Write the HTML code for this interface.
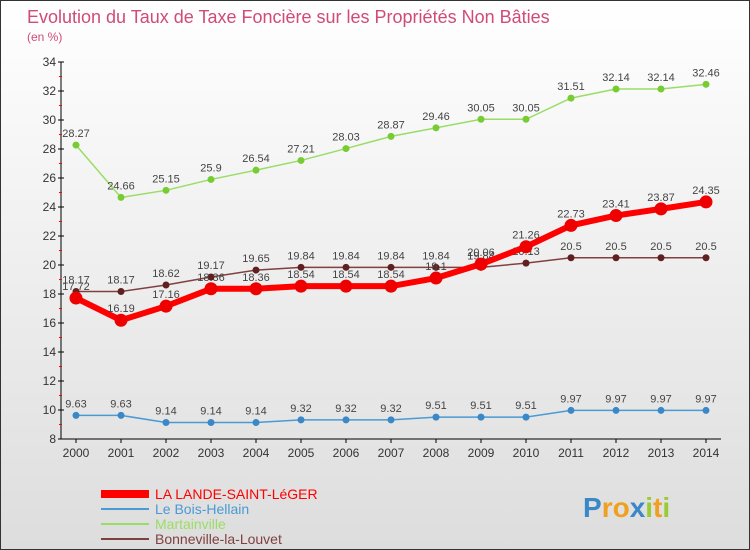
<!DOCTYPE html>
<html><head><meta charset="utf-8"><style>
body{margin:0}
#c{width:748px;height:548px;border:1px solid #333;background:linear-gradient(#fff,#ddd);position:relative;font-family:"Liberation Sans",sans-serif;overflow:hidden}
</style></head><body>
<div id="c">
<svg id="s" width="748" height="548"></svg>
</div>
<script>
const years=[2000,2001,2002,2003,2004,2005,2006,2007,2008,2009,2010,2011,2012,2013,2014];
const lande=[17.72,16.19,17.16,18.36,18.36,18.54,18.54,18.54,19.1,20.06,21.26,22.73,23.41,23.87,24.35];
const bois=[9.63,9.63,9.14,9.14,9.14,9.32,9.32,9.32,9.51,9.51,9.51,9.97,9.97,9.97,9.97];
const mart=[28.27,24.66,25.15,25.9,26.54,27.21,28.03,28.87,29.46,30.05,30.05,31.51,32.14,32.14,32.46];
const bonn=[18.17,18.17,18.62,19.17,19.65,19.84,19.84,19.84,19.84,19.84,20.13,20.5,20.5,20.5,20.5];
const yTicks=[8,10,12,14,16,18,20,22,24,26,28,30,32,34];
const NS="http://www.w3.org/2000/svg",s=document.getElementById('s');
const X=i=>75+i*45, Y=v=>438-(v-8)*(377/26);
function el(t,a,txt){const e=document.createElementNS(NS,t);for(const k in a)e.setAttribute(k,a[k]);if(txt!=null)e.textContent=txt;s.appendChild(e);return e;}
let e=el('text',{x:26,y:22,'font-size':18,fill:'#d04a7a'},'Evolution du Taux de Taxe Foncière sur les Propriétés Non Bâties');

e=el('text',{x:26,y:40,'font-size':12,fill:'#d04a7a'},'(en %)');

e=el('line',{x1:60,y1:Y(34),x2:60,y2:Y(8),stroke:'#000'});

e=el('line',{x1:60,y1:Y(8),x2:720,y2:Y(8),stroke:'#000'});

yTicks.forEach(v=>{
 e=el('line',{x1:57,x2:63,y1:Y(v),y2:Y(v),stroke:'#000'});
 if(v<34){e=el('line',{x1:58,x2:61,y1:Y(v+1),y2:Y(v+1),stroke:'red'});}
 e=el('text',{x:55,y:Y(v)+4,'font-size':12,fill:'#333','text-anchor':'end'},v);
});
years.forEach((y,i)=>{
 e=el('line',{x1:X(i),x2:X(i),y1:Y(8),y2:Y(8)+4,stroke:'#000'});
 e=el('text',{x:X(i),y:Y(8)+18,'font-size':12,fill:'#333','text-anchor':'middle'},y);
});
function series(d,col,dot,w,r,name){
 e=el('polyline',{points:d.map((v,i)=>X(i)+','+Y(v)).join(' '),fill:'none',stroke:col,'stroke-width':w});
 
 d.forEach((v,i)=>{
  e=el('circle',{cx:X(i),cy:Y(v),r:r,fill:dot});
  e=el('text',{x:X(i),y:Y(v)-8,'font-size':11,fill:'#444','text-anchor':'middle'},v);
 });
}
series(bois,'#4a9ad4','#3a88c8',1.5,3.5,'bois-hellain');
series(mart,'#99dd66','#77cc33',1.5,3.5,'martainville');
series(bonn,'#804040','#602020',1.5,3.5,'bonneville');
series(lande,'#ff0000','#ee0000',6,6.5,'lande-saint-leger');
const leg=[['LA LANDE-SAINT-LéGER','#ff0000',8],['Le Bois-Hellain','#4a9ad4',2],['Martainville','#99dd66',2],['Bonneville-la-Louvet','#804040',2]];
leg.forEach((l,i)=>{const y=493+i*15;
 e=el('line',{x1:100,x2:148,y1:y,y2:y,stroke:l[1],'stroke-width':l[2]});
 e=el('text',{x:154,y:y+5,'font-size':14,fill:l[1]},l[0]);
});
e=el('text',{x:582,y:516,'font-size':28,'font-weight':'bold'});

[['P','#3a88c8'],['ro','#f0a020'],['x','#3a88c8'],['i','#99cc33'],['t','#f0a020'],['i','#99cc33']].forEach(p=>{const t=document.createElementNS(NS,'tspan');t.setAttribute('fill',p[1]);t.textContent=p[0];e.appendChild(t);});
</script>
</body></html>
